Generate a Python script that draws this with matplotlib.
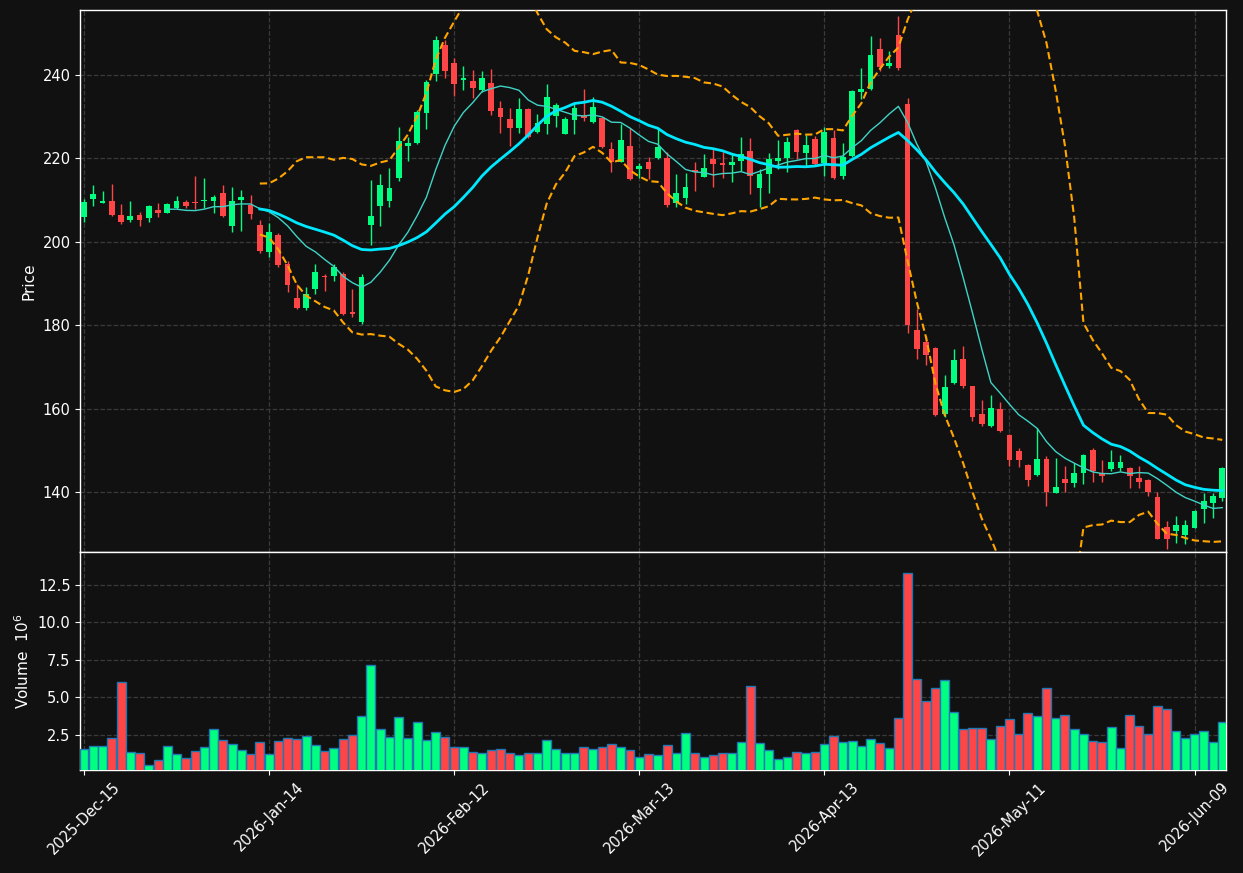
import numpy as np
import pandas as pd
import matplotlib
matplotlib.use("Agg")
import matplotlib.pyplot as plt

# ---------------- data ----------------
opens = [206.0, 210.35, 209.4, 209.8, 206.4, 205.2, 206.4, 205.7, 207.6, 207.0,
         208.0, 209.5, 209.5, 209.8, 209.9, 211.6, 203.9, 210.0, 208.8, 204.0,
         197.6, 201.6, 194.7, 186.5, 184.2, 188.8, 191.9, 191.9, 192.3, 183.2,
         180.7, 204.0, 208.6, 209.9, 215.4, 223.1, 223.6, 231.0, 240.2, 247.2,
         243.0, 238.8, 238.6, 236.4, 238.2, 232.2, 229.5, 227.4, 231.9, 226.4,
         228.3, 230.3, 225.9, 229.2, 230.3, 228.7, 229.6, 222.3, 219.2, 223.0,
         217.5, 219.1, 220.0, 220.2, 209.2, 210.6, 217.2, 215.6, 219.9, 219.0,
         218.4, 219.5, 221.8, 213.0, 216.3, 219.5, 220.0, 226.8, 221.2, 224.6,
         218.8, 225.0, 215.9, 220.7, 236.0, 236.7, 246.2, 242.2, 249.6, 233.0,
         178.9, 175.9, 174.5, 158.6, 166.2, 171.8, 165.4, 158.7, 155.9, 159.9,
         153.7, 149.9, 146.5, 144.1, 147.9, 139.8, 143.1, 142.2, 144.5, 150.1,
         144.6, 145.5, 145.8, 145.8, 143.4, 142.9, 138.9, 131.5, 130.7, 129.7,
         131.4, 136.0, 137.4, 138.6]
highs = [210.3, 213.6, 212.1, 213.9, 209.1, 209.8, 207.1, 208.8, 209.2, 209.2,
         211.0, 210.0, 215.8, 215.3, 211.3, 213.6, 213.1, 212.4, 211.2, 205.2,
         204.6, 202.0, 195.5, 189.9, 189.1, 194.6, 192.3, 194.6, 192.7, 188.6,
         192.3, 214.8, 216.3, 217.6, 227.5, 225.1, 231.6, 238.8, 249.4, 248.4,
         244.0, 242.2, 241.2, 241.0, 241.4, 233.8, 232.0, 234.4, 232.0, 230.7,
         237.8, 233.4, 230.0, 233.2, 236.6, 234.7, 229.9, 224.0, 228.3, 227.2,
         219.0, 220.3, 227.2, 221.6, 216.3, 216.4, 219.2, 221.1, 222.2, 221.6,
         221.0, 225.1, 224.8, 217.4, 221.2, 224.4, 225.1, 227.0, 225.6, 225.4,
         227.6, 226.8, 223.8, 236.3, 241.6, 249.4, 248.8, 245.8, 254.2, 234.6,
         184.0, 177.3, 174.7, 168.1, 174.2, 175.0, 165.5, 162.1, 163.3, 161.5,
         153.8, 150.5, 146.7, 155.3, 148.7, 148.1, 146.3, 147.0, 149.1, 150.6,
         147.7, 150.1, 148.9, 146.1, 146.2, 143.0, 140.1, 133.0, 134.2, 133.3,
         135.7, 139.8, 139.7, 146.1]
lows = [204.8, 208.6, 209.4, 206.3, 204.2, 204.8, 203.9, 204.8, 206.0, 206.8,
        207.8, 208.0, 207.9, 208.0, 207.0, 206.0, 202.3, 202.5, 205.4, 197.4,
        196.3, 194.0, 187.9, 183.9, 183.6, 187.6, 188.3, 190.7, 182.4, 182.0,
        180.3, 199.2, 203.8, 208.3, 214.7, 219.5, 223.5, 227.0, 238.6, 239.4,
        235.0, 236.4, 234.4, 236.0, 230.4, 226.2, 223.1, 226.2, 224.8, 226.2,
        225.9, 227.5, 225.8, 225.9, 228.9, 228.4, 222.4, 216.8, 219.1, 214.8,
        215.2, 215.0, 219.8, 208.3, 208.3, 209.0, 212.3, 215.5, 213.1, 215.2,
        214.4, 217.1, 211.5, 208.4, 211.6, 217.4, 216.7, 219.8, 217.9, 218.4,
        215.9, 215.0, 215.0, 220.4, 234.2, 236.4, 241.0, 241.8, 241.2, 178.1,
        171.8, 170.5, 158.2, 157.9, 165.9, 165.0, 157.1, 155.9, 155.7, 154.5,
        146.3, 145.9, 141.5, 143.8, 136.6, 139.7, 140.1, 141.1, 141.8, 142.3,
        142.5, 145.1, 145.0, 140.9, 140.9, 139.1, 128.7, 126.4, 127.7, 127.5,
        131.3, 132.5, 133.7, 137.9]
closes = [209.5, 211.46, 209.8, 206.5, 204.8, 206.2, 205.2, 208.6, 206.9, 209.1,
          209.8, 208.6, 209.2, 210.0, 210.7, 206.3, 209.7, 210.7, 206.6, 197.9,
          202.4, 194.4, 189.6, 184.2, 187.6, 192.8, 191.6, 194.0, 182.7, 182.7,
          191.6, 206.2, 213.6, 212.9, 224.2, 223.6, 231.1, 238.3, 248.4, 241.0,
          237.8, 239.4, 237.0, 239.2, 231.5, 230.0, 227.4, 231.9, 225.1, 228.6,
          234.7, 232.8, 229.5, 232.2, 229.8, 232.4, 222.7, 219.2, 224.4, 215.0,
          218.2, 217.5, 222.8, 208.8, 211.8, 213.2, 216.7, 217.7, 218.7, 218.5,
          219.1, 221.1, 215.9, 216.3, 219.9, 220.2, 223.9, 221.6, 223.2, 218.7,
          226.4, 215.4, 220.4, 236.2, 236.7, 244.8, 242.0, 242.8, 241.6, 180.0,
          174.3, 172.9, 158.5, 165.1, 171.7, 165.3, 158.1, 156.3, 160.2, 154.7,
          147.7, 147.7, 142.9, 147.9, 140.1, 141.3, 142.2, 144.5, 148.8, 145.0,
          143.9, 147.2, 147.2, 143.9, 142.5, 140.1, 128.8, 128.8, 132.1, 132.1,
          135.4, 137.8, 139.0, 145.8]
volumes = [1.56, 1.74, 1.74, 2.28, 6.01, 1.36, 1.30, 0.50, 0.83, 1.74,
           1.23, 0.96, 1.43, 1.70, 2.90, 2.16, 1.90, 1.50, 1.23, 2.03,
           1.23, 2.10, 2.30, 2.23, 2.43, 1.83, 1.43, 1.63, 2.23, 2.50,
           3.76, 7.16, 2.90, 2.36, 3.70, 2.30, 3.36, 2.16, 2.70, 2.36,
           1.70, 1.70, 1.36, 1.30, 1.50, 1.56, 1.30, 1.16, 1.30, 1.30,
           2.16, 1.56, 1.30, 1.30, 1.70, 1.56, 1.70, 1.90, 1.70, 1.50,
           1.03, 1.23, 1.16, 1.83, 1.30, 2.63, 1.30, 1.03, 1.16, 1.30,
           1.30, 2.03, 5.76, 1.96, 1.50, 0.90, 1.03, 1.36, 1.30, 1.36,
           1.90, 2.43, 2.03, 2.10, 1.76, 2.23, 1.96, 1.63, 3.63, 13.30,
           6.23, 4.76, 5.63, 6.16, 4.03, 2.90, 2.96, 2.96, 2.23, 3.10,
           3.56, 2.56, 3.96, 3.76, 5.63, 3.63, 3.83, 2.90, 2.56, 2.10,
           2.03, 3.03, 1.63, 3.83, 3.10, 2.56, 4.43, 4.23, 2.76, 2.30,
           2.56, 2.76, 2.03, 3.36]
tick_index = [0, 20, 40, 60, 80, 100, 120]
tick_labels = ['2025-Dec-15', '2026-Jan-14', '2026-Feb-12', '2026-Mar-13',
               '2026-Apr-13', '2026-May-11', '2026-Jun-09']

# ---------------- style ----------------
BG = '#111111'
UP = '#00FF80'
DOWN = '#FF4545'
GRID = '#3a3a3a'

o = np.array(opens); h = np.array(highs); l = np.array(lows); c = np.array(closes)
v = np.array(volumes)
x = np.arange(len(c))
close_s = pd.Series(c)
ma10 = close_s.rolling(10).mean()
ma20 = close_s.rolling(20).mean()
sd20 = close_s.rolling(20).std()
bb_up = ma20 + 2 * sd20
bb_lo = ma20 - 2 * sd20

up = c >= o
cols = np.where(up, UP, DOWN)

fig = plt.figure(figsize=(12.43, 8.73), dpi=100, facecolor=BG)
axp = fig.add_axes([0.0646, 0.3677, 0.9217, 0.6208], facecolor=BG)
axv = fig.add_axes([0.0646, 0.1180, 0.9217, 0.2497], facecolor=BG, sharex=axp)

for ax in (axp, axv):
    for s in ax.spines.values():
        s.set_color('white')
        s.set_linewidth(1.0)
    ax.tick_params(colors='white', labelsize=10.5)
    ax.grid(True, color=GRID, linestyle='--', linewidth=0.9)
    ax.set_axisbelow(True)

# candles
axp.vlines(x, l, h, colors=cols, linewidth=1.0, zorder=2)
body_h = np.maximum(np.abs(c - o), 0.3)
axp.bar(x, body_h, bottom=np.minimum(o, c), width=0.62, color=cols, linewidth=0, zorder=3)

# moving averages and bands
axp.plot(x, ma10, color='#3fd3c6', linewidth=1.0, zorder=4)
axp.plot(x, ma20, color='#00E8FF', linewidth=2.0, zorder=4)
axp.plot(x, bb_up, color='#FFA500', linewidth=1.5, linestyle=(0, (3.5, 1.8)), zorder=4)
axp.plot(x, bb_lo, color='#FFA500', linewidth=1.5, linestyle=(0, (3.5, 1.8)), zorder=4)

axp.set_ylim(125.6, 255.6)
axp.set_yticks([140, 160, 180, 200, 220, 240])
axp.set_ylabel('Price', color='white', fontsize=11)
axp.tick_params(axis='x', labelbottom=False, length=0)

# volume
axv.bar(x, v, width=0.97, color=cols, edgecolor='#1f77b4', linewidth=1.0, zorder=3)
axv.set_ylim(0.167, 14.7)
axv.set_yticks([2.5, 5.0, 7.5, 10.0, 12.5])
axv.set_ylabel('Volume  $10^{6}$', color='white', fontsize=11)

axv.set_xlim(-0.4, len(c) - 1 + 0.4)
axv.set_xticks(tick_index)
axv.set_xticklabels(tick_labels, rotation=45, ha='center')

fig.savefig('out.png', dpi=100, facecolor=BG)
